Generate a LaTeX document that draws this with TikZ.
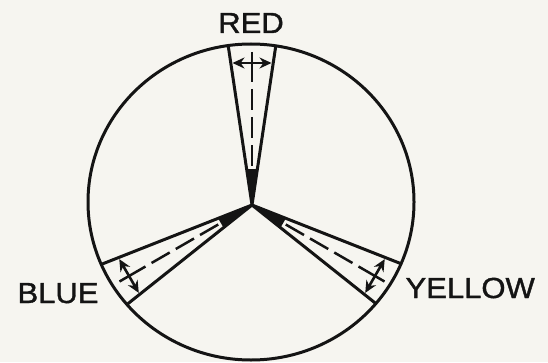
\documentclass[tikz,border=0pt]{standalone}
\usepackage{fontspec}
\setmainfont{Liberation Sans}
\newfontfamily\labelfont[FakeBold=1.3,FakeStretch=1.07]{Liberation Sans}
\usetikzlibrary{arrows.meta}
\definecolor{paper}{RGB}{246,245,240}
\definecolor{ink}{RGB}{20,20,20}
\begin{document}
\begin{tikzpicture}[x=1pt,y=1pt,line width=3pt,draw=ink,
  label/.style={font=\labelfont\fontsize{29}{29}\selectfont,text=ink,inner sep=0pt},
  edge/.style={line width=3pt,line join=round},
  dimarrow/.style={line width=2.6pt,{Stealth[length=12pt,width=11pt]}-{Stealth[length=12pt,width=11pt]}},
  axis/.style={line width=2.5pt,dash pattern=on 30pt off 7pt on 21pt off 7pt on 21pt off 7pt on 21pt off 7pt}]
\fill[paper] (0,0) rectangle (548,362);
\useasboundingbox (0,0) rectangle (548,362);
\clip (0,0) rectangle (548,362);
\coordinate (hub) at (252,157);
\coordinate (c) at (251,160);
\begin{scope}
  \clip (c) ellipse [x radius=163, y radius=158];
  \foreach \a in {90,210,330} {
    \draw[edge,shift={(hub)},rotate=\a] (180,-26.9) -- (0,0) -- (180,26.9);
    \fill[ink,shift={(hub)},rotate=\a] (0,0) -- (36,-5.4) -- (36,5.4) -- cycle;
    \draw[dimarrow,shift={(hub)},rotate=\a] (142,-19.5) -- (142,19.5);
    \draw[axis,shift={(hub)},rotate=\a] (153,0) -- (32,0);
  }
\end{scope}
\draw (c) ellipse [x radius=163, y radius=158];
\node[label,anchor=base] (red) at (251,329) {RED};
\node[label,anchor=base west] (blue) at (16,59) {BLUE};
\node[label,anchor=base west] (yellow) at (404,64) {YELLOW};
\end{tikzpicture}
\end{document}
